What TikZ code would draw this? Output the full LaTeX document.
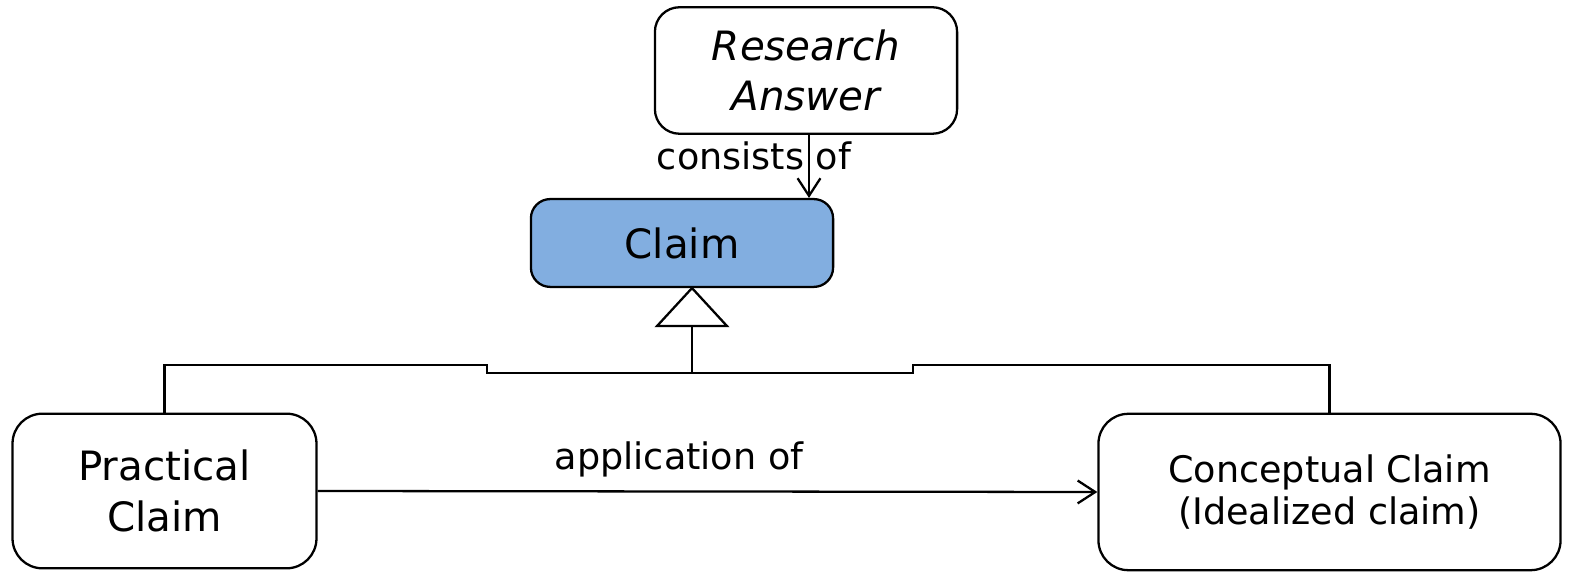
\documentclass[tikz,border=0pt]{standalone}
\usepackage{fontspec}
\setmainfont{DejaVu Sans}
\usetikzlibrary{arrows.meta, calc, positioning}
\definecolor{claimblue}{RGB}{130,174,224}

\begin{document}
\begin{tikzpicture}[x=0.02cm, y=-0.02cm, line width=1.3pt]
	\tikzset{>={Straight Barb[length=10pt, width=13pt]},
		box/.style={draw, rounded corners=14pt, align=center, inner sep=0pt, font=\fontsize{23}{28}\selectfont},
		txt/.style={inner sep=0pt, font=\fontsize{20.8}{25}\selectfont} }
	\useasboundingbox (0,0) rectangle (1571,573);

	\node[box, minimum width=172pt, minimum height=72pt, font=\fontsize{23}{28.5}\selectfont\itshape] (answer) at (806,70.5) {Research\\Answer};
	\node[box, fill=claimblue, rounded corners=11pt, minimum width=172pt, minimum height=50pt] (claim) at (682,243) {Claim};
	\node[box, rounded corners=17pt, minimum width=173pt, minimum height=88pt, font=\fontsize{23}{29}\selectfont] (practical) at (164.5,491) {Practical\\Claim};
	\node[box, rounded corners=17pt, minimum width=263pt, minimum height=89pt, font=\fontsize{20.8}{24}\selectfont] (conceptual) at (1329.5,492) {Conceptual Claim\\(Idealized claim)};

	\node[txt] (consists) at (754,156) {consists of};
	\node[txt] (application) at (679,459) {application of};

	\coordinate (cx) at (809,0);
	\coordinate (tip) at ($(claim.south)+(10,0)$);
	\coordinate (base) at ($(tip)+(0,38)$);

	\draw[->] (answer.south -| cx) -- (claim.north -| cx);
	\draw[->] (practical.east) -- (conceptual.west);

	\draw[fill=white] (tip) -- ++(-35,38) -- ++(70,0) -- cycle;
	\draw (base) -- ++(0,47) coordinate (bar);
	\draw (practical.north) |- (487,365) |- (bar) -| (913,365) -| (conceptual.north);

\end{tikzpicture}
\end{document}
